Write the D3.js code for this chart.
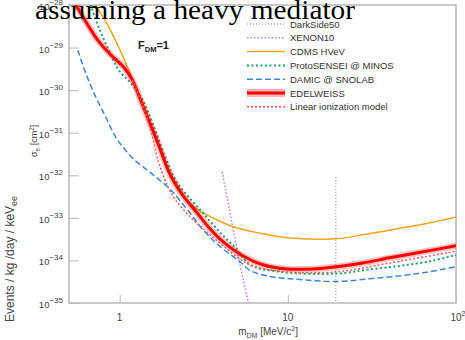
<!DOCTYPE html>
<html>

<head>
    <meta charset="utf-8" />
    <title>sigma_e limits, heavy mediator</title>
    <style>
        body { margin: 0; background: #fff; }
        svg { display: block; font-family: "Liberation Sans", Arial, Helvetica, sans-serif; }
    </style>
</head>

<body>
    <svg width="465" height="340"></svg>
</body>

<script src="https://cdn.jsdelivr.net/npm/d3@7"></script>
<script>

    // axis ranges and ticks
    var massRange = [0.5, 100];
    var sigmaRange = [1e-35, 1e-28];
    var xMajorTicks = [1, 10, 100];
    var yMajorExps = [-35, -34, -33, -32, -31, -30, -29, -28];

    // limit curves [m_DM in MeV/c2, sigma_e in cm2]
    var darkside50 = [[19.3, 9e-33], [19.3, 1e-36]];
    var xenon10 = [[4.07, 1.2e-32], [4.53, 1.32e-33], [5.20, 7.9e-35], [5.88, 9.1e-36], [6.3, 3e-36]];
    var cdmsHVeV = [[0.70, 1.4e-28], [0.721, 1.0e-28], [0.849, 3.4e-29], [0.987, 1.02e-29], [1.115, 3.5e-30],
        [1.244, 1.2e-30], [1.368, 5.0e-31], [1.525, 1.7e-31], [2.004, 9.1e-33], [2.39, 3.1e-33],
        [3.01, 1.45e-33], [3.80, 8.9e-34], [4.73, 6.2e-34], [6.56, 4.5e-34], [9.86, 3.4e-34],
        [19.5, 3.25e-34], [27.8, 4.0e-34], [44.2, 5.5e-34], [69.2, 7.6e-34], [100, 1.05e-33]];
    var protoSensei = [[0.66, 1.3e-28], [0.673, 1.0e-28], [0.751, 3.0e-29], [0.861, 8.7e-30], [0.987, 2.95e-30],
        [1.162, 1.48e-30], [1.368, 5.9e-31], [1.567, 1.7e-31], [1.87, 2.6e-32], [2.204, 6.6e-33],
        [3.013, 1.55e-33], [3.96, 4.5e-34], [4.99, 1.8e-34], [5.96, 7.9e-35], [8.97, 5.4e-35],
        [19.5, 4.9e-35], [29.3, 6.0e-35], [46.0, 7.4e-35], [72.1, 9.8e-35], [100, 1.35e-34]];
    var damic = [[0.564, 8.7e-30], [0.629, 2.5e-30], [0.721, 6.9e-31], [0.826, 2.34e-31], [0.947, 7.9e-32],
        [1.042, 4.7e-32], [1.21, 2.4e-32], [1.525, 1.15e-32], [2.004, 4.6e-33], [2.53, 1.55e-33],
        [3.14, 5.2e-34], [3.96, 2.1e-34], [5.20, 9.3e-35], [5.96, 5.8e-35], [7.82, 4.2e-35],
        [10.3, 3.7e-35], [19.5, 3.2e-35], [30.5, 3.7e-35], [47.9, 4.4e-35], [69.2, 5.4e-35], [100, 7.1e-35]];
    var edelweiss = [[0.52, 1.4e-28], [0.549, 1.0e-28], [0.647, 3.4e-29], [0.741, 1.5e-29], [0.885, 6.8e-30],
        [1.056, 3.5e-30], [1.194, 1.7e-30], [1.331, 5.9e-31], [1.465, 2.3e-31], [1.589, 1.05e-31],
        [1.748, 4.0e-32], [2.004, 1.02e-32], [2.391, 3.3e-33], [2.894, 1.3e-33], [3.455, 5.5e-34],
        [4.12, 2.75e-34], [5.20, 1.4e-34], [7.11, 7.9e-35], [9.86, 6.3e-35], [14.06, 6.3e-35],
        [19.5, 7.1e-35], [27.8, 8.7e-35], [40.2, 1.15e-34], [58.0, 1.5e-34], [100, 2.2e-34]];
    var linearIonization = [[1.19, 1.7e-30], [1.331, 5.9e-31], [1.525, 1.17e-31], [1.748, 1.5e-32],
        [2.09, 3.1e-33], [2.63, 1.05e-33], [3.32, 4.6e-34], [4.12, 2.2e-34], [5.96, 7.9e-35],
        [9.86, 5.4e-35], [19.5, 5.4e-35], [40.2, 8.7e-35], [100, 1.65e-34]];

    var legendLabels = ['DarkSide50', 'XENON10', 'CDMS HVeV', 'ProtoSENSEI @ MINOS',
        'DAMIC @ SNOLAB', 'EDELWEISS', 'Linear ionization model'];

    var series = [
        { name: legendLabels[0], data: darkside50, color: '#7a7a7a', width: 1, dash: '1,2', linear: true },
        { name: legendLabels[1], data: xenon10, color: '#b77cf0', width: 1.5, dash: '1.5,2' },
        { name: legendLabels[2], data: cdmsHVeV, color: '#f8a31d', width: 1.5, dash: null },
        { name: legendLabels[3], data: protoSensei, color: '#22a06a', width: 2, dash: '2,2.5' },
        { name: legendLabels[4], data: damic, color: '#3f86da', width: 1.5, dash: '6,3' },
        { name: legendLabels[5], data: edelweiss, color: '#ff0000', width: 3, dash: null, band: true },
        { name: legendLabels[6], data: linearIonization, color: '#ff5a5a', width: 1.5, dash: '2,2' }
    ];

    var plotLeft = 69, plotRight = 456, plotTop = 5, plotBottom = 303;

    var x = d3.scaleLog().domain(massRange).range([plotLeft, plotRight]);
    var y = d3.scaleLog().domain(sigmaRange).range([plotBottom, plotTop]);

    var svg = d3.select('svg');

    svg.append('clipPath').attr('id', 'plot')
        .append('rect')
        .attr('x', plotLeft).attr('y', plotTop)
        .attr('width', plotRight - plotLeft).attr('height', plotBottom - plotTop);

    // minor tick values for log axes
    var xMinor = [];
    [0.1, 1, 10].forEach(function (dec) {
        for (var k = 2; k <= 9; k++) {
            var v = k * dec;
            if (v > massRange[0] && v < massRange[1]) xMinor.push(v);
        }
    });
    var yMinor = [];
    yMajorExps.slice(0, -1).forEach(function (e) {
        for (var k = 2; k <= 9; k++) yMinor.push(k * Math.pow(10, e));
    });

    var axisColor = '#b8b8b8';

    var gx = svg.append('g').attr('transform', 'translate(0,' + plotBottom + ')');
    gx.call(d3.axisBottom(x).tickValues(xMinor).tickSize(-4).tickFormat(''));
    gx.call(d3.axisBottom(x).tickValues(xMajorTicks).tickSize(-8).tickFormat(''));
    var gy = svg.append('g').attr('transform', 'translate(' + plotLeft + ',0)');
    gy.call(d3.axisLeft(y).tickValues(yMinor).tickSize(-5).tickFormat(''));
    gy.call(d3.axisLeft(y).tickValues(yMajorExps.map(function (e) { return Math.pow(10, e); }))
        .tickSize(-10).tickFormat(''));
    svg.selectAll('.domain').remove();
    svg.selectAll('.tick line').attr('stroke', axisColor);

    svg.append('rect')
        .attr('x', plotLeft).attr('y', plotTop)
        .attr('width', plotRight - plotLeft).attr('height', plotBottom - plotTop)
        .attr('fill', 'none').attr('stroke', axisColor).attr('stroke-width', 1.5);

    // y tick labels 10^n
    var yLab = svg.append('g').attr('fill', '#444');
    yMajorExps.forEach(function (e) {
        var t = yLab.append('text')
            .attr('x', 63).attr('y', y(Math.pow(10, e)) + 5)
            .attr('text-anchor', 'end')
            .attr('font-size', 9.5);
        t.append('tspan').text('10');
        t.append('tspan').attr('dy', -5).attr('font-size', 8).text('\u2212' + Math.abs(e));
    });

    // x tick labels
    var xLab = svg.append('g').attr('fill', '#444').attr('font-size', 10);
    xMajorTicks.forEach(function (v) {
        var e = Math.round(Math.log10(v));
        var t = xLab.append('text').attr('y', 321).attr('text-anchor', 'middle');
        if (e === 0) {
            t.attr('x', x(v)).text('1');
        } else if (e === 1) {
            t.attr('x', x(v)).text('10');
        } else {
            t.attr('x', x(v) + 2);
            t.append('tspan').text('10');
            t.append('tspan').attr('dy', -5).attr('font-size', 7).text(e);
        }
    });

    // curves
    var line = d3.line()
        .x(function (d) { return x(d[0]); })
        .y(function (d) { return y(d[1]); })
        .curve(d3.curveCatmullRom.alpha(0.5));
    var straight = d3.line()
        .x(function (d) { return x(d[0]); })
        .y(function (d) { return y(d[1]); });

    var plot = svg.append('g').attr('clip-path', 'url(#plot)');

    series.forEach(function (s) {
        var gen = s.linear ? straight : line;
        if (s.band) {
            plot.append('path')
                .attr('d', gen(s.data))
                .attr('fill', 'none')
                .attr('stroke', 'rgba(255,0,0,0.25)')
                .attr('stroke-width', 6.5)
                .attr('stroke-linejoin', 'round');
        }
        plot.append('path')
            .attr('d', gen(s.data))
            .attr('fill', 'none')
            .attr('stroke', s.color)
            .attr('stroke-width', s.width)
            .attr('stroke-dasharray', s.dash)
            .attr('stroke-linejoin', 'round');
    });

    // legend
    var legend = svg.append('g');
    series.forEach(function (s, i) {
        var ly = 24 + i * 13.8;
        if (s.band) {
            legend.append('rect')
                .attr('x', 247).attr('y', ly - 4)
                .attr('width', 38).attr('height', 8)
                .attr('fill', 'rgba(255,0,0,0.3)');
        }
        legend.append('line')
            .attr('x1', 247).attr('x2', 285)
            .attr('y1', ly).attr('y2', ly)
            .attr('stroke', s.color)
            .attr('stroke-width', s.width)
            .attr('stroke-dasharray', s.dash);
        legend.append('text')
            .attr('x', 290).attr('y', ly + 3.5)
            .attr('font-size', 9.5)
            .attr('fill', '#333')
            .text(s.name);
    });

    // F_DM = 1
    var fdm = svg.append('text')
        .attr('x', 138).attr('y', 49)
        .attr('font-size', 11).attr('font-weight', 'bold').attr('fill', '#222');
    fdm.append('tspan').text('F');
    fdm.append('tspan').attr('dy', 3).attr('font-size', 7.5).text('DM');
    fdm.append('tspan').attr('dy', -3).text('=1');

    // axis titles
    var xt = svg.append('text')
        .attr('x', 298).attr('y', 335)
        .attr('text-anchor', 'end')
        .attr('font-size', 10).attr('fill', '#444');
    xt.append('tspan').text('m');
    xt.append('tspan').attr('dy', 2.5).attr('font-size', 7).text('DM');
    xt.append('tspan').attr('dy', -2.5).text(' [MeV/c');
    xt.append('tspan').attr('dy', -4).attr('font-size', 7).text('2');
    xt.append('tspan').attr('dy', 4).text(']');

    var st = svg.append('text')
        .attr('transform', 'translate(37,157) rotate(-90)')
        .attr('font-size', 9).attr('fill', '#444');
    st.append('tspan').text('\u03c3');
    st.append('tspan').attr('dy', 2.5).attr('font-size', 6.5).text('e');
    st.append('tspan').attr('dy', -2.5).text(' [cm');
    st.append('tspan').attr('dy', -3.5).attr('font-size', 6.5).text('2');
    st.append('tspan').attr('dy', 3.5).text(']');

    var et = svg.append('text')
        .attr('transform', 'translate(14,322) rotate(-90)')
        .attr('font-size', 12).attr('fill', '#444');
    et.append('tspan').text('Events / kg /day / keV');
    et.append('tspan').attr('dy', 3).attr('font-size', 9).text('ee');

    // overlapping heading
    svg.append('text')
        .attr('x', 35).attr('y', 19)
        .attr('font-family', '"Liberation Serif", "Times New Roman", serif')
        .attr('font-size', 27).attr('fill', '#000')
        .attr('textLength', 320).attr('lengthAdjust', 'spacingAndGlyphs')
        .text('assuming a heavy mediator');

</script>

</html>
